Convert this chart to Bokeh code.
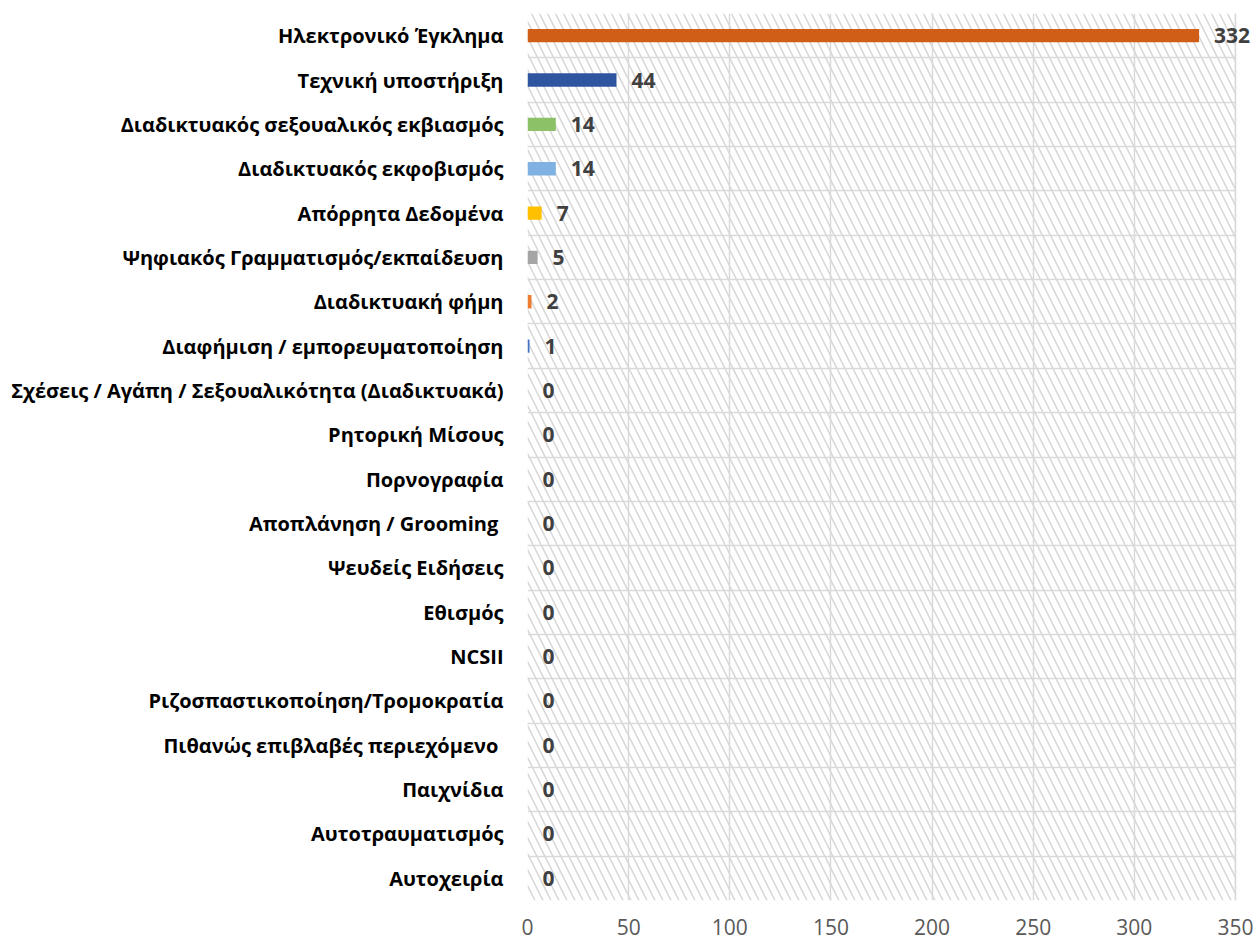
from bokeh.plotting import figure
from bokeh.models import Range1d, FixedTicker, BoxAnnotation, ColumnDataSource, LabelSet, Grid
from bokeh.embed import file_html
from bokeh.resources import INLINE
from bokeh.core.properties import value

categories = [
    "Ηλεκτρονικό Έγκλημα",
    "Τεχνική υποστήριξη",
    "Διαδικτυακός σεξουαλικός εκβιασμός",
    "Διαδικτυακός εκφοβισμός",
    "Απόρρητα Δεδομένα",
    "Ψηφιακός Γραμματισμός/εκπαίδευση",
    "Διαδικτυακή φήμη",
    "Διαφήμιση / εμπορευματοποίηση",
    "Σχέσεις / Αγάπη / Σεξουαλικότητα (Διαδικτυακά)",
    "Ρητορική Μίσους",
    "Πορνογραφία",
    "Αποπλάνηση / Grooming ",
    "Ψευδείς Ειδήσεις",
    "Εθισμός",
    "NCSII",
    "Ριζοσπαστικοποίηση/Τρομοκρατία",
    "Πιθανώς επιβλαβές περιεχόμενο ",
    "Παιχνίδια",
    "Αυτοτραυματισμός",
    "Αυτοχειρία",
]
values = [332, 44, 14, 14, 7, 5, 2, 1, 0, 0, 0, 0, 0, 0, 0, 0, 0, 0, 0, 0]
colors = ["#D05E16", "#2F55A0", "#8CC168", "#7FB1E2", "#FFC000", "#A5A5A5",
          "#ED7D31", "#4472C4", "#D05E16", "#2F55A0", "#8CC168", "#7FB1E2",
          "#FFC000", "#A5A5A5", "#ED7D31", "#4472C4", "#D05E16", "#2F55A0",
          "#8CC168", "#7FB1E2"]
x_ticks = [0, 50, 100, 150, 200, 250, 300, 350]

n = len(categories)
pos = [i + 0.5 for i in range(n)]
labels = [str(v) for v in values]
x_max = x_ticks[-1]

src = ColumnDataSource(dict(cat=categories, val=values, y=pos, color=colors, label=labels))

# frame extends a little past the last tick so the value label of the longest bar fits
FRAME_W = 731
AXIS_W = 708
p = figure(frame_width=FRAME_W, frame_height=887,
           x_range=Range1d(0, x_max * FRAME_W / AXIS_W), y_range=Range1d(n, 0),
           output_backend="svg", toolbar_location=None,
           min_border_left=527, min_border_right=0, min_border_top=13, min_border_bottom=40)

p.background_fill_color = "white"
p.border_fill_color = "white"
p.outline_line_color = None

hatch = BoxAnnotation(right=x_max, fill_color=None, fill_alpha=0, line_color=None,
                      hatch_pattern="\\", hatch_color="#D6D6D6", hatch_scale=16,
                      hatch_weight=1.5, level="image")
p.add_layout(hatch)

# grids
p.xgrid.ticker = FixedTicker(ticks=x_ticks)
p.xgrid.grid_line_color = "#D9D9D9"
p.xgrid.grid_line_width = 1.5
p.ygrid.ticker = FixedTicker(ticks=list(range(n + 1)))
p.ygrid.grid_line_color = "#D9D9D9"
p.ygrid.grid_line_width = 1.5

# white mask over the gridline extension beyond the last tick
mask = BoxAnnotation(left=x_max, fill_color="white", fill_alpha=1, line_color=None,
                     level="underlay")
p.add_layout(mask)
edge = Grid(dimension=0, ticker=FixedTicker(ticks=[x_max]), grid_line_color="#D9D9D9",
            grid_line_width=1.5, level="underlay")
p.add_layout(edge)

p.hbar(y="y", right="val", left=0, height=0.3, fill_color="color", line_color=None, source=src)

vlabels = LabelSet(x="val", y="y", text="label", source=src, x_offset=15,
                   text_align="left", text_baseline="middle",
                   text_font=value("Open Sans"), text_font_style="bold",
                   text_font_size="21px", text_color="#404040", level="overlay")
p.add_layout(vlabels)

# x axis
p.xaxis.ticker = FixedTicker(ticks=x_ticks)
p.xaxis.axis_line_color = None
p.xaxis.major_tick_line_color = None
p.xaxis.minor_tick_line_color = None
p.xaxis.major_label_text_font = "Open Sans"
p.xaxis.major_label_text_font_size = "21px"
p.xaxis.major_label_text_color = "#595959"
p.xaxis.major_label_standoff = 12

# y axis
p.yaxis.ticker = FixedTicker(ticks=pos)
p.yaxis.major_label_overrides = {y: c for y, c in zip(pos, categories)}
p.yaxis.axis_line_color = None
p.yaxis.major_tick_line_color = None
p.yaxis.minor_tick_line_color = None
p.yaxis.major_label_text_font = "Open Sans"
p.yaxis.major_label_text_font_style = "bold"
p.yaxis.major_label_text_font_size = "20px"
p.yaxis.major_label_text_color = "#000000"
p.yaxis.major_label_standoff = 18

open("out.html", "w").write(file_html(p, INLINE))
